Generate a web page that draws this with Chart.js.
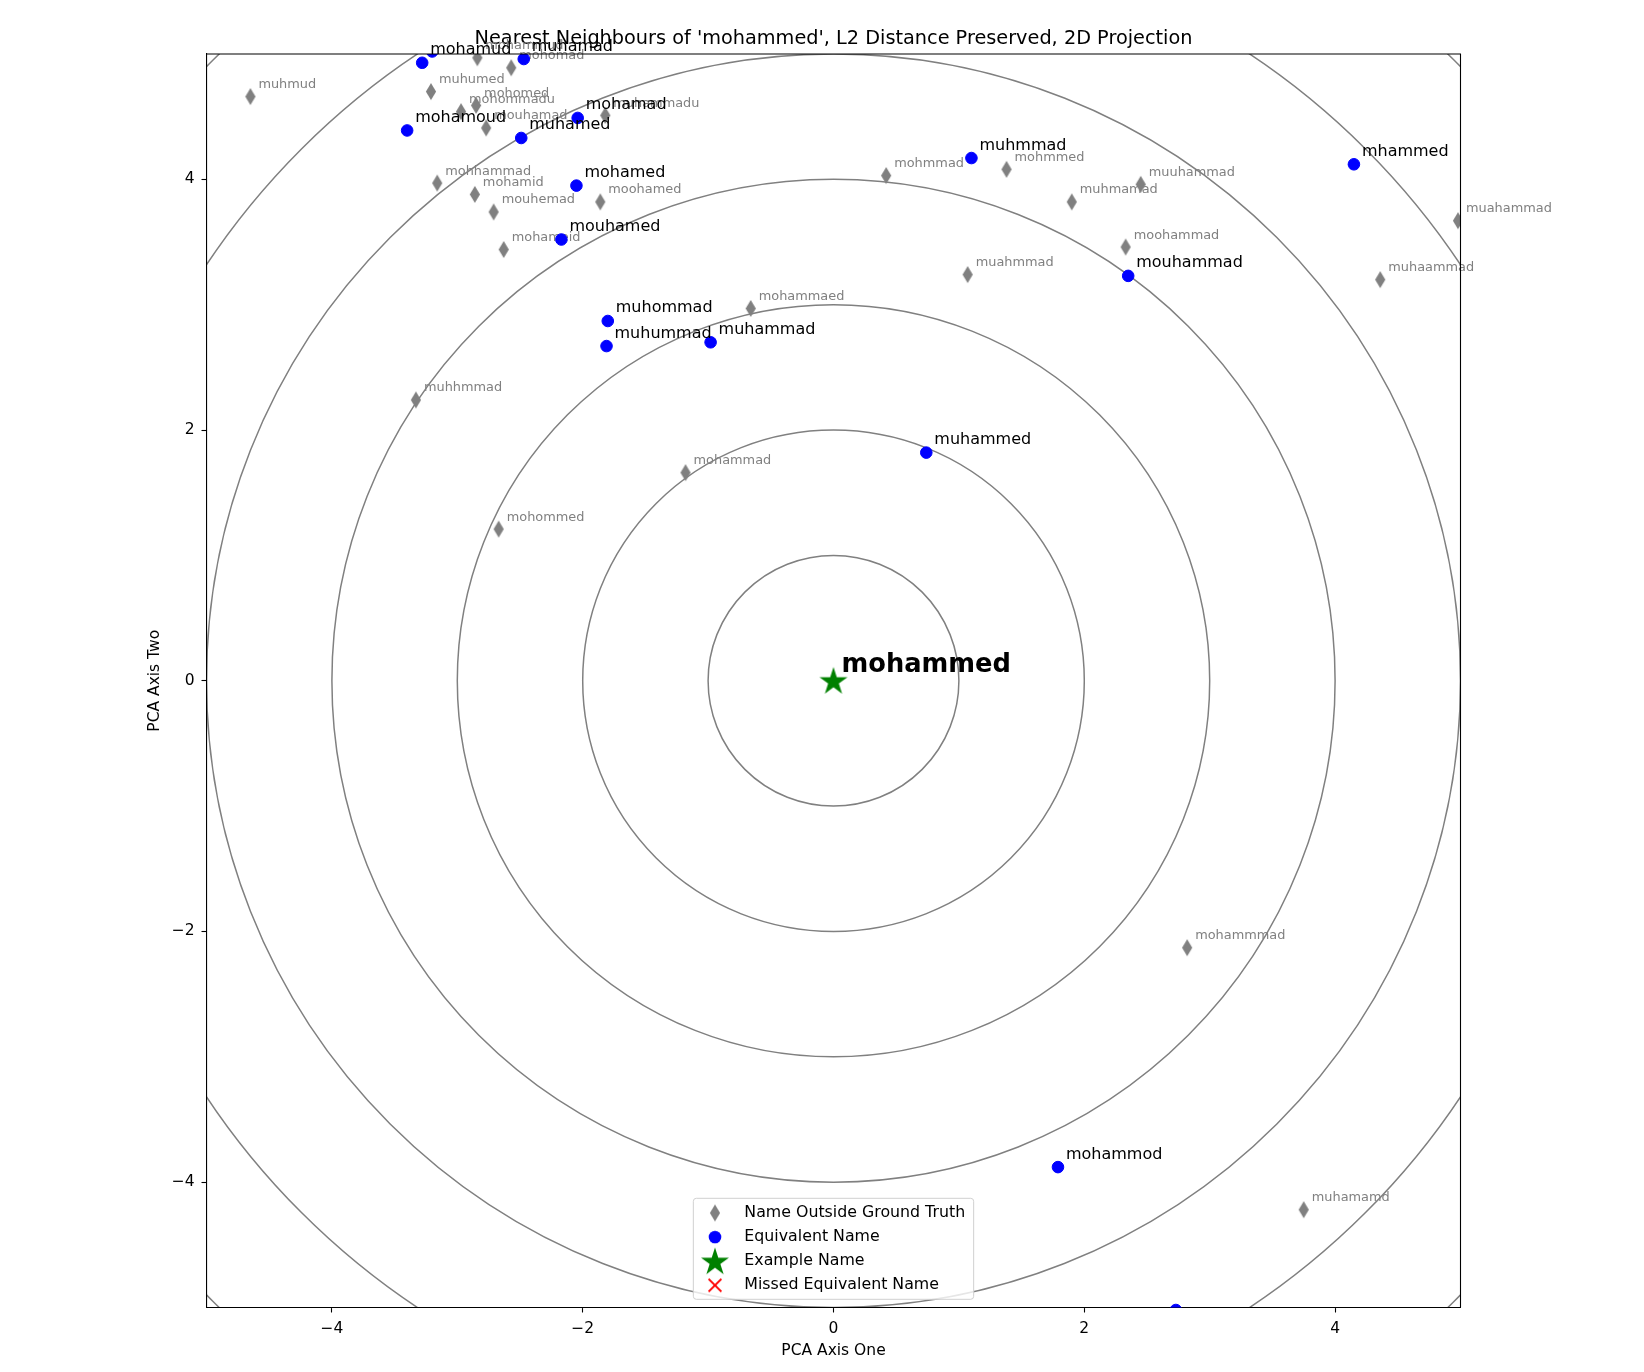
<!DOCTYPE html>
<html>
<head>
<meta charset="utf-8">
<script src="https://cdn.jsdelivr.net/npm/chart.js@4.4.1/dist/chart.umd.min.js"></script>
<style>
  html, body { margin: 0; padding: 0; background: #fff; }
  canvas { display: block; }
</style>
</head>
<body>
<canvas id="chart" width="1644" height="1372"></canvas>
<script>
// names outside the ground truth (grey diamonds)
const outsideNames = ['muhmud', 'mohammud', 'mohomad', 'muhumed', 'mohomed', 'mohommadu', 'mouhamad',
  'muhammadu', 'mohhammad', 'mohamid', 'moohamed', 'mouhemad', 'mohameid', 'mohmmad', 'mohmmed',
  'muuhammad', 'muhmamad', 'moohammad', 'muahmmad', 'mohammaed', 'muahammad', 'muhaammad',
  'muhhmmad', 'mohammad', 'mohommed', 'mohammmad', 'muhamamd'];
const outsideX = [-4.65, -2.84, -2.57, -3.21, -2.85, -2.97, -2.77,
  -1.82, -3.16, -2.86, -1.86, -2.71, -2.63, 0.42, 1.38,
  2.45, 1.90, 2.33, 1.07, -0.66, 4.98, 4.36,
  -3.33, -1.18, -2.67, 2.82, 3.75];
const outsideY = [4.66, 4.97, 4.89, 4.70, 4.59, 4.54, 4.41,
  4.51, 3.97, 3.88, 3.82, 3.74, 3.44, 4.03, 4.08,
  3.96, 3.82, 3.46, 3.24, 2.97, 3.67, 3.20,
  2.24, 1.66, 1.21, -2.13, -4.22];

// equivalent names (blue dots)
const equivNames = ['mohamud', 'muhamud', 'muhamad', 'mohamoud', 'mohamad', 'muhamed', 'mohamed',
  'mouhamed', 'muhmmad', 'mhammed', 'mouhammad', 'muhommad', 'muhummad', 'muhammad',
  'muhammed', 'mohammod', 'mohammud'];
const equivX = [-3.28, -3.20, -2.47, -3.40, -2.04, -2.49, -2.05,
  -2.17, 1.10, 4.15, 2.35, -1.80, -1.81, -0.98,
  0.74, 1.79, 2.73];
const equivY = [4.93, 5.02, 4.96, 4.39, 4.49, 4.33, 3.95,
  3.52, 4.17, 4.12, 3.23, 2.87, 2.67, 2.70,
  1.82, -3.88, -5.02];

// example name (green star) and missed names (none)
const exampleNames = ['mohammed'];
const exampleX = [0];
const exampleY = [0];
const missedNames = [];
const missedX = [];
const missedY = [];

// rings and ticks
const rings = [1, 2, 3, 4, 5, 6, 7];
const xTicks = [-4, -2, 0, 2, 4];
const xTickLabels = ['\u22124', '\u22122', '0', '2', '4'];
const yTicks = [-4, -2, 0, 2, 4];
const yTickLabels = ['\u22124', '\u22122', '0', '2', '4'];

const FONT = "'DejaVu Sans', sans-serif";

function toPoints(xs, ys) {
    return xs.map((x, i) => ({ x: x, y: ys[i] }));
}

// marker pictures
function makeDiamond() {
    const c = document.createElement('canvas');
    c.width = 12; c.height = 19;
    const g = c.getContext('2d');
    g.fillStyle = '#808080';
    g.beginPath();
    g.moveTo(6, 1); g.lineTo(11.1, 9.5); g.lineTo(6, 18); g.lineTo(0.9, 9.5);
    g.closePath(); g.fill();
    return c;
}
function makeStar() {
    const c = document.createElement('canvas');
    c.width = 32; c.height = 32;
    const g = c.getContext('2d');
    const R = 14.7, r = R * 0.382;
    g.fillStyle = '#008000';
    g.beginPath();
    for (let k = 0; k < 10; k++) {
        const ang = -Math.PI / 2 + k * Math.PI / 5;
        const rad = k % 2 === 0 ? R : r;
        const px = 16 + rad * Math.cos(ang), py = 17 + rad * Math.sin(ang);
        if (k === 0) g.moveTo(px, py); else g.lineTo(px, py);
    }
    g.closePath(); g.fill();
    return c;
}
function makeDot() {
    const c = document.createElement('canvas');
    c.width = 14; c.height = 14;
    const g = c.getContext('2d');
    g.fillStyle = '#0000ff';
    g.beginPath(); g.arc(7, 7, 6.3, 0, Math.PI * 2); g.fill();
    return c;
}
function makeCross() {
    const c = document.createElement('canvas');
    c.width = 16; c.height = 16;
    const g = c.getContext('2d');
    g.strokeStyle = '#ff0000'; g.lineWidth = 2;
    g.beginPath();
    g.moveTo(1.6, 1.6); g.lineTo(14.4, 14.4);
    g.moveTo(14.4, 1.6); g.lineTo(1.6, 14.4);
    g.stroke();
    return c;
}

const diamondImg = makeDiamond();
const starImg = makeStar();
const legendIcons = [diamondImg, makeDot(), starImg, makeCross()];

// legend frame geometry (matplotlib style box), filled in afterLayout
let legendBox = null;

const ringsPlugin = {
    id: 'rings',
    afterLayout(chart) {
        const lg = chart.legend;
        const area = chart.chartArea;
        const pad = lg.options.labels.padding;
        const ctx = chart.ctx;
        ctx.save();
        ctx.font = '15.8px ' + FONT;
        const maxText = Math.max(...chart.data.datasets.map(d => ctx.measureText(d.label).width));
        ctx.restore();
        const w = 51 + maxText + 8.5;
        const h = 101;
        const cx = (area.left + area.right) / 2;
        const left = cx - w / 2;
        const top = area.bottom - 8.2 - h;
        legendBox = { left: left, top: top, w: w, h: h };
        lg.left = left + 0.1 - pad;
        lg.right = lg.left + lg.width;
        lg.top = top + 6.8 - pad;
        lg.height = 200;
        lg.bottom = lg.top + 200;
    },
    beforeDraw(chart) {
        const { ctx, chartArea: a, scales: { x, y } } = chart;
        const cx = x.getPixelForValue(exampleX[0]);
        const cy = y.getPixelForValue(exampleY[0]);
        ctx.save();
        ctx.beginPath();
        ctx.rect(a.left, a.top, a.right - a.left, a.bottom - a.top);
        ctx.clip();
        ctx.strokeStyle = '#808080';
        ctx.lineWidth = 1.5;
        rings.forEach(r => {
            const rx = x.getPixelForValue(exampleX[0] + r) - cx;
            const ry = cy - y.getPixelForValue(exampleY[0] + r);
            ctx.beginPath();
            ctx.ellipse(cx, cy, rx, ry, 0, 0, Math.PI * 2);
            ctx.stroke();
        });
        ctx.restore();

        if (legendBox) {
            ctx.save();
            ctx.beginPath();
            ctx.roundRect(legendBox.left, legendBox.top, legendBox.w, legendBox.h, 3);
            ctx.fillStyle = 'rgba(255,255,255,0.8)';
            ctx.fill();
            ctx.strokeStyle = '#d0d0d0';
            ctx.lineWidth = 1;
            ctx.stroke();
            ctx.restore();
        }
    },
    afterDatasetDraw(chart, args) {
        const ds = chart.data.datasets[args.index];
        if (!ds.names) return;
        const { ctx, scales: { x, y } } = chart;
        ctx.save();
        ctx.font = ds.labelFont;
        ctx.fillStyle = ds.labelColor;
        ctx.textAlign = 'left';
        ctx.textBaseline = 'alphabetic';
        args.meta.data.forEach((pt, i) => {
            const d = ds.data[i];
            if (d.x < x.min || d.x > x.max || d.y < y.min || d.y > y.max) return;
            ctx.fillText(ds.names[i], pt.x + 8, pt.y - 8.5);
        });
        ctx.restore();
    },
    afterDraw(chart) {
        const { ctx, chartArea: a } = chart;
        ctx.save();
        ctx.strokeStyle = '#000';
        ctx.lineWidth = 1.1;
        ctx.beginPath();
        ctx.moveTo(a.left, a.top); ctx.lineTo(a.right, a.top); ctx.lineTo(a.right, a.bottom);
        ctx.stroke();
        ctx.restore();
    }
};

new Chart(document.getElementById('chart'), {
    type: 'scatter',
    data: {
        datasets: [{
            label: 'Name Outside Ground Truth',
            data: toPoints(outsideX, outsideY),
            names: outsideNames,
            labelFont: '12.9px ' + FONT,
            labelColor: '#808080',
            pointStyle: diamondImg,
            order: 3,
            clip: 0,
        }, {
            label: 'Equivalent Name',
            data: toPoints(equivX, equivY),
            names: equivNames,
            labelFont: '16px ' + FONT,
            labelColor: '#000',
            pointStyle: 'circle',
            pointRadius: 5.8,
            backgroundColor: '#0000ff',
            borderColor: '#0000ff',
            borderWidth: 1,
            order: 2,
            clip: 0,
        }, {
            label: 'Example Name',
            data: toPoints(exampleX, exampleY),
            names: exampleNames,
            labelFont: 'bold 25.7px ' + FONT,
            labelColor: '#000',
            pointStyle: starImg,
            order: 1,
            clip: 0,
        }, {
            label: 'Missed Equivalent Name',
            data: toPoints(missedX, missedY),
            names: missedNames,
            labelFont: '16px ' + FONT,
            labelColor: '#ff0000',
            pointStyle: 'crossRot',
            pointRadius: 7,
            borderColor: '#ff0000',
            order: 0,
            clip: 0,
        }],
    },
    options: {
        responsive: false,
        animation: false,
        devicePixelRatio: 1,
        layout: { padding: { left: 0, right: 183.5, top: 0, bottom: 0 } },
        scales: {
            x: {
                type: 'linear',
                min: -5,
                max: 5,
                afterBuildTicks: s => { s.ticks = xTicks.map(v => ({ value: v })); },
                afterFit: s => { s.height = 64.5; },
                ticks: {
                    callback: (v, i) => xTickLabels[i],
                    font: { family: FONT, size: 15.5 },
                    color: '#000',
                    padding: 7.5,
                    maxRotation: 0,
                    autoSkip: false,
                },
                grid: { drawOnChartArea: false, drawTicks: true, tickLength: 5, tickWidth: 1.1, tickColor: '#000' },
                border: { display: true, color: '#000', width: 1.1 },
                title: {
                    display: true,
                    text: 'PCA Axis One',
                    font: { family: FONT, size: 15.5 },
                    color: '#000',
                    padding: { top: 0, bottom: 11.7 },
                },
            },
            y: {
                type: 'linear',
                min: -5,
                max: 5,
                afterBuildTicks: s => { s.ticks = yTicks.map(v => ({ value: v })); },
                afterFit: s => { s.width = 206.5; },
                ticks: {
                    callback: (v, i) => yTickLabels[i],
                    font: { family: FONT, size: 15.5 },
                    color: '#000',
                    padding: 7,
                    autoSkip: false,
                },
                grid: { drawOnChartArea: false, drawTicks: true, tickLength: 5, tickWidth: 1.1, tickColor: '#000' },
                border: { display: true, color: '#000', width: 1.1 },
                title: {
                    display: true,
                    text: 'PCA Axis Two',
                    font: { family: FONT, size: 15.5 },
                    color: '#000',
                    padding: { top: 145.7, bottom: 0 },
                },
            },
        },
        plugins: {
            title: {
                display: true,
                text: "Nearest Neighbours of 'mohammed', L2 Distance Preserved, 2D Projection",
                font: { family: FONT, size: 19.3, weight: 'normal' },
                color: '#000',
                padding: { top: 27, bottom: 3.84 },
                fullSize: false,
            },
            legend: {
                position: 'chartArea',
                align: 'start',
                labels: {
                    usePointStyle: true,
                    pointStyleWidth: 43,
                    padding: 8.3,
                    font: { family: FONT, size: 15.8 },
                    color: '#000',
                    generateLabels: chart => chart.data.datasets.map((ds, i) => ({
                        text: ds.label,
                        pointStyle: legendIcons[i],
                        fillStyle: '#000',
                        strokeStyle: 'transparent',
                        lineWidth: 0,
                        hidden: false,
                        datasetIndex: i,
                    })),
                },
            },
            tooltip: { enabled: false },
        },
    },
    plugins: [ringsPlugin],
});
</script>
</body>
</html>
